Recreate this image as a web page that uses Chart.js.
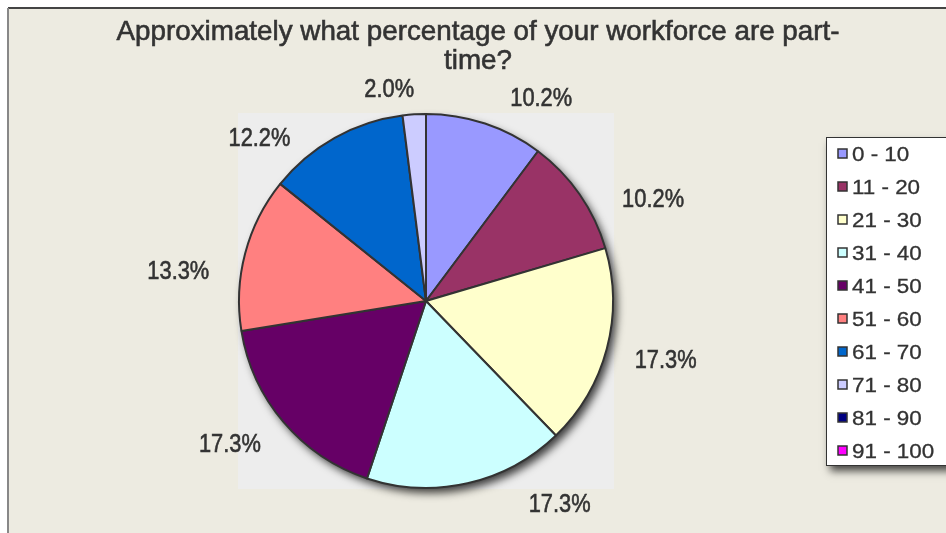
<!DOCTYPE html>
<html>
<head>
<meta charset="utf-8">
<script src="https://cdn.jsdelivr.net/npm/chart.js@4.4.0/dist/chart.umd.min.js"></script>
<style>
body { margin: 0; background: #fff; }
#wrap { width: 946px; height: 533px; }
</style>
</head>
<body>
<div id="wrap"><canvas id="myChart" width="946" height="533"></canvas></div>
<script>
var titleLines = ['Approximately what percentage of your workforce are part-', 'time?'];
var categories = ['0 - 10', '11 - 20', '21 - 30', '31 - 40', '41 - 50', '51 - 60', '61 - 70', '71 - 80', '81 - 90', '91 - 100'];
var shares = [10.2, 10.2, 17.3, 17.3, 17.3, 13.3, 12.2, 2.0, 0, 0];
var sliceColors = ['#9999FF', '#993366', '#FFFFCC', '#CCFFFF', '#660066', '#FF8080', '#0066CC', '#CCCCFF', '#000080', '#FF00FF'];

// small tweaks so the outside labels sit where the old spreadsheet put them
var labelNudge = [[36, 12], [21, 28], [-3, 2], [78, -17], [-5, -3], [-5, 29], [-44, 35], [-21, 14], [0, 0], [0, 0]];

ready = (callback) => {
    if (document.readyState != "loading") callback();
    else document.addEventListener("DOMContentLoaded", callback);
}

ready(() => {

var FONT = '"Liberation Sans", Arial, sans-serif';

// text squeezed/stretched sideways, with a hair of stroke to make it heavier
function drawText(ctx, txt, x, y, sx) {
    ctx.save();
    ctx.translate(x, y);
    ctx.scale(sx, 1);
    ctx.fillText(txt, 0, 0);
    ctx.strokeText(txt, 0, 0);
    ctx.restore();
}

// frame, beige page and the grey plot square
var backdrop = {
    id: 'backdrop',
    beforeDraw(chart) {
        var ctx = chart.ctx;
        var a = chart.chartArea;
        ctx.save();
        ctx.fillStyle = '#ffffff';
        ctx.fillRect(0, 0, chart.width, chart.height);
        ctx.fillStyle = '#EDEBE1';
        ctx.fillRect(8, 8, chart.width - 8, chart.height - 8);
        ctx.fillStyle = '#444';
        ctx.fillRect(8, 7, chart.width - 8, 2);
        ctx.fillStyle = '#888';
        ctx.fillRect(7, 8, 2, chart.height - 8);
        ctx.fillStyle = '#EDEDED';
        ctx.fillRect(a.left, a.top, a.right - a.left, a.bottom - a.top);
        ctx.restore();
    },
    beforeDatasetsDraw(chart) {
        // soft drop shadow under the whole pie
        var arc = chart.getDatasetMeta(0).data[0];
        var ctx = chart.ctx;
        ctx.save();
        ctx.shadowColor = 'rgba(0,0,0,0.75)';
        ctx.shadowBlur = 9;
        ctx.shadowOffsetX = 4;
        ctx.shadowOffsetY = 5;
        ctx.fillStyle = '#333';
        ctx.beginPath();
        ctx.arc(arc.x, arc.y, arc.outerRadius, 0, Math.PI * 2);
        ctx.fill();
        ctx.restore();
    },
    afterDraw(chart) {
        var ctx = chart.ctx;
        ctx.save();
        ctx.fillStyle = '#333';
        ctx.strokeStyle = '#333';
        ctx.lineWidth = 0.6;
        ctx.textAlign = 'center';
        ctx.textBaseline = 'middle';

        // title
        ctx.font = '28px ' + FONT;
        var sx = 723 / ctx.measureText(titleLines[0]).width;
        titleLines.forEach(function(line, i) {
            drawText(ctx, line, 478, 32 + i * 29, sx);
        });

        // percentage labels outside the slices
        var meta = chart.getDatasetMeta(0);
        var total = shares.reduce(function(s, v) { return s + v; }, 0);
        ctx.font = '26px ' + FONT;
        meta.data.forEach(function(arc, i) {
            if (!shares[i]) return;
            var mid = (arc.startAngle + arc.endAngle) / 2;
            var dx = Math.cos(mid), dy = Math.sin(mid);
            var txt = (shares[i] / total * 100).toFixed(1) + '%';
            var hw = 36, hh = 11;
            var r = arc.outerRadius + 28;
            var x = arc.x + dx * r + dx * hw + labelNudge[i][0];
            var y = arc.y + dy * r + dy * hh + labelNudge[i][1];
            drawText(ctx, txt, x, y, 0.84);
        });

        // legend box
        var lx = 826, ly = 137, lw = 140, lh = 328;
        ctx.save();
        ctx.shadowColor = 'rgba(0,0,0,0.7)';
        ctx.shadowBlur = 8;
        ctx.shadowOffsetX = 4;
        ctx.shadowOffsetY = 6;
        ctx.fillStyle = '#fff';
        ctx.fillRect(lx, ly, lw, lh);
        ctx.restore();
        ctx.lineWidth = 1;
        ctx.strokeRect(lx + 0.5, ly + 0.5, lw, lh);

        ctx.textAlign = 'left';
        ctx.font = '20px ' + FONT;
        categories.forEach(function(name, i) {
            var cy = 154 + i * 33;
            ctx.fillStyle = sliceColors[i];
            ctx.fillRect(838, cy - 5, 9, 9);
            ctx.lineWidth = 1.5;
            ctx.strokeRect(838, cy - 5, 9, 9);
            ctx.fillStyle = '#333';
            ctx.lineWidth = 0.3;
            drawText(ctx, name, 852, cy + 1, 1.12);
        });
        ctx.restore();
    }
};

var ctx = document.getElementById('myChart').getContext('2d');
var chart = new Chart(ctx, {
    type: 'pie',
    data: {
        labels: categories,
        datasets: [{
            data: shares,
            backgroundColor: sliceColors,
            borderColor: '#333',
            borderWidth: 2
        }]
    },
    options: {
        responsive: false,
        animation: false,
        layout: { padding: { left: 238, right: 332, top: 113, bottom: 44 } },
        plugins: {
            legend: { display: false },
            tooltip: { enabled: false }
        }
    },
    plugins: [backdrop]
});

})
</script>
</body>
</html>
